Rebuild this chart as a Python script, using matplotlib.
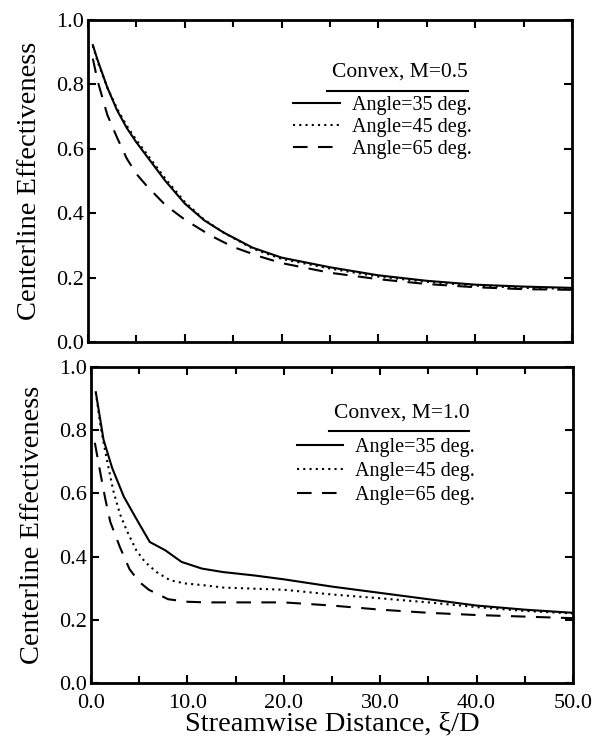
import matplotlib
matplotlib.use("Agg")
import matplotlib.pyplot as plt
from matplotlib.lines import Line2D
from matplotlib.ticker import MultipleLocator, FormatStrFormatter

plt.rcParams['font.family'] = ['Liberation Serif', 'DejaVu Serif']
plt.rcParams['mathtext.fontset'] = 'stix'

# M = 0.5, centerline effectiveness along the streamwise distance
x35_a = [0.5, 1, 2, 3, 4, 5, 6, 7, 8, 10, 12, 14, 17, 20, 25, 30, 35, 40, 45, 50]
y35_a = [0.922, 0.875, 0.79, 0.72, 0.665, 0.62, 0.58, 0.54, 0.50, 0.43, 0.378,
         0.34, 0.293, 0.262, 0.232, 0.207, 0.19, 0.178, 0.172, 0.168]
x45_a = [0.5, 1, 2, 3, 4, 5, 6, 7, 8, 10, 12, 14, 17, 20, 25, 30, 35, 40, 45, 50]
y45_a = [0.92, 0.87, 0.79, 0.725, 0.672, 0.627, 0.587, 0.547, 0.507, 0.435, 0.38,
         0.34, 0.29, 0.258, 0.228, 0.203, 0.187, 0.175, 0.168, 0.165]
x65_a = [0.5, 1, 2, 3, 4, 5, 6, 8, 10, 12.7, 15, 17.8, 20, 25, 30, 35, 40, 45, 50]
y65_a = [0.88, 0.81, 0.705, 0.635, 0.57, 0.522, 0.487, 0.425, 0.38, 0.33, 0.295,
         0.265, 0.245, 0.215, 0.195, 0.18, 0.17, 0.164, 0.162]

# M = 1.0
x35_b = [0.5, 1.3, 2.2, 3.4, 4.6, 6.1, 7.7, 9.4, 11.5, 13.7, 17, 20, 25, 30, 35, 40, 45, 50]
y35_b = [0.92, 0.77, 0.68, 0.59, 0.525, 0.446, 0.42, 0.383, 0.362, 0.351, 0.34,
         0.328, 0.305, 0.285, 0.265, 0.245, 0.232, 0.222]
x45_b = [0.5, 1, 1.6, 2.3, 3, 3.7, 4.7, 5.6, 6.8, 8.2, 9.75, 11.8, 13.7, 20, 25, 30, 35, 40, 45, 50]
y45_b = [0.92, 0.81, 0.714, 0.61, 0.535, 0.483, 0.42, 0.383, 0.351, 0.325, 0.315,
         0.309, 0.302, 0.295, 0.28, 0.268, 0.255, 0.24, 0.228, 0.22]
x65_b = [0.4, 1, 1.5, 2, 3, 4, 5, 6, 8, 10, 12, 20, 25, 30, 35, 40, 45, 50]
y65_b = [0.76, 0.66, 0.58, 0.51, 0.43, 0.36, 0.32, 0.295, 0.265, 0.257, 0.255,
         0.255, 0.245, 0.232, 0.222, 0.215, 0.21, 0.205]

labels = ['Angle=35 deg.', 'Angle=45 deg.', 'Angle=65 deg.']
panels = [
    ('Convex, M=0.5', [(x35_a, y35_a), (x45_a, y45_a), (x65_a, y65_a)]),
    ('Convex, M=1.0', [(x35_b, y35_b), (x45_b, y45_b), (x65_b, y65_b)]),
]
styles = [dict(ls='-'), dict(ls=(0, (1, 2))), dict(ls=(0, (7, 5)))]

fig = plt.figure(figsize=(5.97, 7.41), dpi=100)
ax1 = fig.add_axes([0.1474, 0.5385, 0.8107, 0.4345])
ax2 = fig.add_axes([0.1524, 0.0783, 0.8074, 0.4265])

# legend placement per panel: title y, underline y, legend top y, legend left x
leg_pos = [(0.839, 0.779, 0.765, 0.424), (0.855, 0.798, 0.775, 0.427)]
spacing = [0.16, 0.24]

for ax, (title, series), (ty, uy, ly, lx), sp_ in zip([ax1, ax2], panels, leg_pos, spacing):
    for (xs, ys), st, lab in zip(series, styles, labels):
        ax.plot(xs, ys, color='black', lw=1.5, label=lab, **st)
    ax.set_xlim(0, 50)
    ax.set_ylim(0, 1.0)
    ax.xaxis.set_major_locator(MultipleLocator(10))
    ax.xaxis.set_minor_locator(MultipleLocator(5))
    ax.yaxis.set_major_locator(MultipleLocator(0.2))
    ax.yaxis.set_major_formatter(FormatStrFormatter('%.1f'))
    ax.xaxis.set_major_formatter(FormatStrFormatter('%.1f'))
    ax.tick_params(which='both', direction='in', top=True, right=True,
                   width=1.5, labelsize=16, pad=3)
    ax.tick_params(axis='x', pad=8)
    ax.tick_params(which='major', length=6)
    ax.tick_params(which='minor', length=5)
    for sp in ax.spines.values():
        sp.set_linewidth(2)
    ax.set_ylabel('Centerline Effectiveness', fontsize=20.5)
    ax.yaxis.set_label_coords(-0.095, 0.5)

    ax.text(0.785, ty, title, transform=ax.transAxes, ha='right', va='center',
            fontsize=15.5)
    ax.add_line(Line2D([0.494, 0.785], [uy, uy], transform=ax.transAxes,
                       color='black', lw=1.5))
    ax.legend(loc='upper left', bbox_to_anchor=(lx, ly), frameon=False,
              fontsize=14.5, handlelength=2.3, handletextpad=0.6,
              labelspacing=sp_, borderpad=0, borderaxespad=0)

ax1.tick_params(labelbottom=False)
ax2.set_xlabel('Streamwise Distance, \u03be/D', fontsize=20.5, labelpad=-1)

fig.savefig('out.png', dpi=100)
